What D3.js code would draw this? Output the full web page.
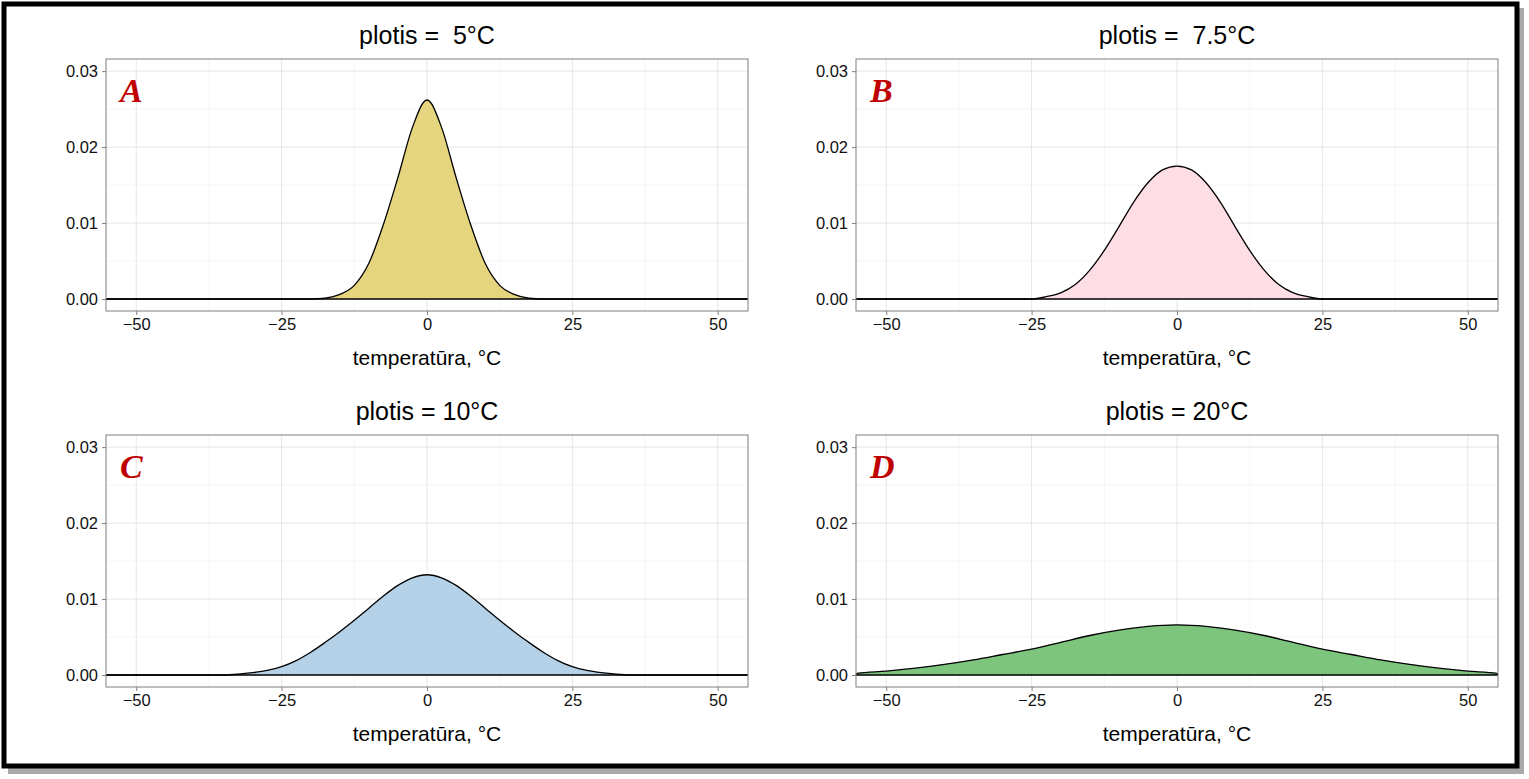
<!DOCTYPE html>
<html><head><meta charset="utf-8">
<script src="https://cdn.jsdelivr.net/npm/d3@7"></script>
<style>body{margin:0;background:#fff}svg{display:block;font-family:"Liberation Sans",Arial,sans-serif}text{white-space:pre}</style>
</head><body>
<svg id="chart" width="1529" height="779"></svg>
<script>
// panel titles, tags and fills
const titles = ["plotis =  5\u00B0C", "plotis =  7.5\u00B0C", "plotis = 10\u00B0C", "plotis = 20\u00B0C"]
const tags = ["A", "B", "C", "D"]
const fills = ["#e5d57e", "#ffdde5", "#b4d1e7", "#7dc47d"]

// density estimates (x in °C, y density); right halves mirror the left
const xsA = [-55.2, -20, -17.5, -15, -12.5, -10, -7.5, -5, -2.5, 0]
const ysA = [0, 0, 0.0001, 0.0006, 0.0018, 0.0047, 0.0098, 0.0160, 0.0226, 0.0262]
const xsB = [-55.2, -25, -22.5, -20, -17.5, -15, -12.5, -10, -7.5, -5, -2.5, 0]
const ysB = [0, 0, 0.0003, 0.0008, 0.0019, 0.0038, 0.0064, 0.0095, 0.0127, 0.0153, 0.0170, 0.0175]
const xsC = [-55.2, -35, -32.5, -30, -27.5, -25, -22.5, -20, -17.5, -15, -12.5, -10, -7.5, -5, -2.5, 0]
const ysC = [0, 0, 0.0001, 0.0003, 0.0006, 0.0011, 0.0019, 0.0030, 0.0043, 0.0057, 0.0072, 0.0088, 0.0104, 0.0118, 0.0128, 0.0132]
const xsD = [-55.2, -55, -50, -45, -40, -35, -30, -25, -20, -15, -10, -5, 0]
const ysD = [0, 0.0002, 0.0005, 0.0009, 0.0014, 0.0020, 0.0027, 0.0034, 0.0043, 0.0052, 0.0059, 0.0064, 0.0066]

const xTicks = [-50, -25, 0, 25, 50]
const yTicks = [0, 0.01, 0.02, 0.03]

function mirror(xs, ys) {
  let pts = xs.map((x, i) => [x, ys[i]])
  let right = pts.slice(0, -1).reverse().map(p => [-p[0], p[1]])
  return pts.concat(right)
}
const series = [mirror(xsA, ysA), mirror(xsB, ysB), mirror(xsC, ysC), mirror(xsD, ysD)]

let svg = d3.select("#chart")

// outer frame with shadow
svg.append("rect").attr("x", 8).attr("y", 8).attr("width", 1516).attr("height", 766).attr("fill", "#aaa")
svg.append("rect").attr("x", 4).attr("y", 4).attr("width", 1513).attr("height", 762)
  .attr("fill", "#fff").attr("stroke", "#000").attr("stroke-width", 5)

let origins = [[106, 59], [856, 59], [106, 435], [856, 435]]
let pw = 642, ph = 252

origins.forEach(function (o, k) {
  let g = svg.append("g").attr("transform", `translate(${o[0]},${o[1]})`)
  let x = d3.scaleLinear().domain([-55.2, 55.2]).range([0, pw])
  let y = d3.scaleLinear().domain([-0.00158, 0.0316]).range([ph, 0])

  // minor grid
  let minorX = [-37.5, -12.5, 12.5, 37.5], minorY = [0.005, 0.015, 0.025]
  g.selectAll(".mx").data(minorX).enter().append("line")
    .attr("x1", d => x(d)).attr("x2", d => x(d)).attr("y1", 0).attr("y2", ph)
    .attr("stroke", "#f5f5f5")
  g.selectAll(".my").data(minorY).enter().append("line")
    .attr("y1", d => y(d)).attr("y2", d => y(d)).attr("x1", 0).attr("x2", pw)
    .attr("stroke", "#f5f5f5")
  // major grid
  g.selectAll(".gx").data(xTicks).enter().append("line")
    .attr("x1", d => x(d)).attr("x2", d => x(d)).attr("y1", 0).attr("y2", ph)
    .attr("stroke", "#e6e6e6")
  g.selectAll(".gy").data(yTicks).enter().append("line")
    .attr("y1", d => y(d)).attr("y2", d => y(d)).attr("x1", 0).attr("x2", pw)
    .attr("stroke", "#e6e6e6")

  let area = d3.area().x(d => x(d[0])).y0(y(0)).y1(d => y(d[1])).curve(d3.curveMonotoneX)
  let line = d3.line().x(d => x(d[0])).y(d => y(d[1])).curve(d3.curveMonotoneX)
  g.append("path").datum(series[k]).attr("d", area).attr("fill", fills[k])
  g.append("path").datum(series[k]).attr("d", line).attr("fill", "none").attr("stroke", "#000").attr("stroke-width", 1.3)
  g.append("line").attr("x1", 0).attr("x2", pw).attr("y1", y(0)).attr("y2", y(0)).attr("stroke", "#000").attr("stroke-width", 1.3)

  g.append("rect").attr("width", pw).attr("height", ph).attr("fill", "none").attr("stroke", "#7f7f7f")

  let ax = g.append("g").attr("transform", `translate(0,${ph})`)
    .call(d3.axisBottom(x).tickValues(xTicks).tickSize(4).tickPadding(3))
  let ay = g.append("g")
    .call(d3.axisLeft(y).tickValues(yTicks).tickFormat(d3.format(".2f")).tickSize(4).tickPadding(4))
  ;[ax, ay].forEach(a => {
    a.select(".domain").remove()
    a.selectAll("line").attr("stroke", "#7f7f7f")
    a.selectAll("text").attr("font-size", 16.5).attr("fill", "#111")
  })

  g.append("text").attr("x", pw / 2).attr("y", ph + 54).attr("text-anchor", "middle")
    .attr("font-size", 21).text("temperat\u016Bra, \u00B0C")
  g.append("text").attr("x", pw / 2).attr("y", -15).attr("text-anchor", "middle")
    .attr("font-size", 25).text(titles[k])
  g.append("text").attr("x", 14).attr("y", 43).attr("font-family", "Liberation Serif, serif")
    .attr("font-style", "italic").attr("font-weight", "bold").attr("font-size", 34)
    .attr("fill", "#c00000").text(tags[k])
})
</script>
</body></html>
